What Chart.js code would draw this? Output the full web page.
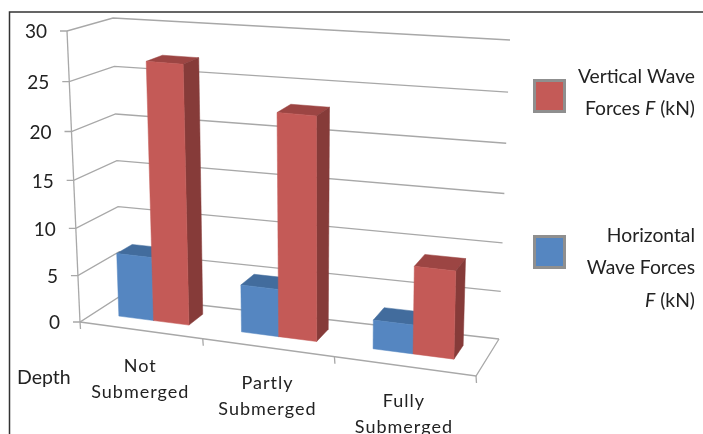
<html>
<head>
  <meta charset="UTF-8">
  <script src="https://cdnjs.cloudflare.com/ajax/libs/Chart.js/4.4.1/chart.umd.js"></script>
  <style> body {padding: 0; margin: 0; background: #fff;} canvas {display: block;} </style>
</head>

<body>
<canvas id="myChart" width="703" height="434"></canvas>

<script>

var categories = [['Not', 'Submerged'], ['Partly', 'Submerged'], ['Fully', 'Submerged']];
var horizontalForces = [6.8, 5, 3];
var verticalForces = [27, 23, 9];
var yMax = 30;
var yStep = 5;
var axisTitle = 'Depth';

// legend text, each line is a list of [text, italic] runs
var verticalLegend = [[['Vertical Wave', false]], [['Forces ', false], ['F', true], [' (kN)', false]]];
var horizontalLegend = [[['Horizontal', false]], [['Wave Forces', false]], [['F', true], [' (kN)', false]]];

var FONT = 'Lato';
var GRID = '#a8a8a8';

// corners of the 3d box as they land in the picture
var FRONT_BL = [80, 322], FRONT_TL = [67, 31], FRONT_BR = [476, 376], FRONT_TR = [482, 65];
var BACK_BL = [120.5, 296], BACK_TL = [113, 18], BACK_BR = [499, 339], BACK_TR = [510, 40];

var BAR_V_FRONT = 0.35, BAR_V_BACK = 0.73;

function warp(t, k) { return t / (k + (1 - k) * t); }
function lerp(a, b, t) { return [a[0] + (b[0] - a[0]) * t, a[1] + (b[1] - a[1]) * t]; }

// u along the categories, v into the depth, w up the value axis, all 0..1
function project(u, v, w) {
  var uu = warp(u, 1.113), ww = warp(w, 1.055);
  var front = lerp(lerp(FRONT_BL, FRONT_BR, uu), lerp(FRONT_TL, FRONT_TR, uu), ww);
  var back = lerp(lerp(BACK_BL, BACK_BR, uu), lerp(BACK_TL, BACK_TR, uu), ww);
  return lerp(front, back, v);
}

function poly(ctx, pts, fill) {
  ctx.beginPath();
  ctx.moveTo(pts[0][0], pts[0][1]);
  for (var i = 1; i < pts.length; i++) ctx.lineTo(pts[i][0], pts[i][1]);
  ctx.closePath();
  ctx.fillStyle = fill;
  ctx.fill();
  ctx.lineWidth = 0.5;
  ctx.strokeStyle = fill;
  ctx.stroke();
}

function line(ctx, pts) {
  ctx.beginPath();
  ctx.moveTo(pts[0][0], pts[0][1]);
  for (var i = 1; i < pts.length; i++) ctx.lineTo(pts[i][0], pts[i][1]);
  ctx.lineWidth = 1.3;
  ctx.strokeStyle = GRID;
  ctx.stroke();
}

function drawWalls(chart, ctx) {
  var y = chart.scales.y;
  // gridlines with the little tick on the front edge
  y.ticks.forEach(function (t) {
    var w = t.value / yMax;
    var a = project(0, 0, w), b = project(0, 1, w), c = project(1, 1, w);
    line(ctx, [[a[0] - 7, a[1]], a, b, c]);
    ctx.font = '19px ' + FONT;
    ctx.fillStyle = '#222';
    ctx.textAlign = 'right';
    ctx.textBaseline = 'middle';
    ctx.fillText(String(t.value), a[0] - 20, a[1] + 1);
  });
  line(ctx, [project(0, 0, 1), project(0, 0, 0)]);
  line(ctx, [project(0, 0, 0), project(1, 0, 0), project(1, 1, 0)]);
  // category ticks under the floor edge
  var n = categories.length;
  for (var i = 0; i <= n; i++) {
    var p = project(i / n, 0, 0);
    line(ctx, [p, [p[0] + 0.5, p[1] + 7]]);
  }
}

function drawBars(chart, ctx) {
  var area = chart.chartArea, y = chart.scales.y;
  chart.data.datasets.forEach(function (ds, di) {
    chart.getDatasetMeta(di).data.forEach(function (bar) {
      var u0 = (bar.x - bar.width / 2 - area.left) / area.width;
      var u1 = (bar.x + bar.width / 2 - area.left) / area.width;
      var h = y.bottom - y.top;
      var w0 = (y.bottom - bar.base) / h, w1 = (y.bottom - bar.y) / h;
      var v0 = BAR_V_FRONT, v1 = BAR_V_BACK;
      poly(ctx, [project(u0, v0, w1), project(u1, v0, w1), project(u1, v1, w1), project(u0, v1, w1)], ds.topColor);
      poly(ctx, [project(u1, v0, w0), project(u1, v1, w0), project(u1, v1, w1), project(u1, v0, w1)], ds.sideColor);
      poly(ctx, [project(u0, v0, w0), project(u1, v0, w0), project(u1, v0, w1), project(u0, v0, w1)], ds.backgroundColor);
    });
  });
}

function drawCategoryLabels(ctx) {
  ctx.font = '18px ' + FONT;
  ctx.fillStyle = '#222';
  ctx.textAlign = 'center';
  ctx.textBaseline = 'middle';
  ctx.letterSpacing = '1px';
  categories.forEach(function (lines, i) {
    var p = project((i + 0.5) / categories.length, 0, 0);
    lines.forEach(function (s, j) {
      ctx.fillText(s, p[0], p[1] + 35.5 + j * 26);
    });
  });
  ctx.letterSpacing = '0px';
  ctx.font = '19.5px ' + FONT;
  ctx.textAlign = 'left';
  ctx.fillText(axisTitle, 17, 378);
}

function drawLegendEntry(ctx, lines, yBox, fill, yLines) {
  ctx.fillStyle = '#8f8f8f';
  ctx.fillRect(533, yBox, 33, 34);
  ctx.fillStyle = fill;
  ctx.fillRect(536, yBox + 3, 27, 28);
  ctx.textBaseline = 'middle';
  ctx.textAlign = 'right';
  ctx.fillStyle = '#222';
  lines.forEach(function (runs, i) {
    var x = 695;
    for (var r = runs.length - 1; r >= 0; r--) {
      ctx.font = (runs[r][1] ? 'italic ' : '') + '19.3px ' + FONT;
      ctx.fillText(runs[r][0], x, yLines[i]);
      x -= ctx.measureText(runs[r][0]).width;
    }
  });
}

var box3d = {
  id: 'box3d',
  beforeDatasetsDraw: function (chart) {
    var ctx = chart.ctx;
    ctx.save();
    // picture frame, only left and top
    ctx.strokeStyle = '#333';
    ctx.lineWidth = 1.5;
    ctx.beginPath();
    ctx.moveTo(9.5, 434);
    ctx.lineTo(9.5, 12);
    ctx.lineTo(703, 12);
    ctx.stroke();

    drawWalls(chart, ctx);
    drawBars(chart, ctx);
    drawCategoryLabels(ctx);
    drawLegendEntry(ctx, verticalLegend, 79, chart.data.datasets[1].backgroundColor, [77, 109]);
    drawLegendEntry(ctx, horizontalLegend, 235, chart.data.datasets[0].backgroundColor, [236, 268, 301]);
    ctx.restore();
    return false;
  }
};

new Chart(document.getElementById('myChart').getContext('2d'), {
  type: 'bar',
  data: {
    labels: categories,
    datasets: [
      { label: 'Horizontal Wave Forces F (kN)', data: horizontalForces, backgroundColor: '#5586c1', sideColor: '#3f6490', topColor: '#426c9d', categoryPercentage: 0.58, barPercentage: 1 },
      { label: 'Vertical Wave Forces F (kN)', data: verticalForces, backgroundColor: '#c45a57', sideColor: '#863b39', topColor: '#9c4543', categoryPercentage: 0.58, barPercentage: 1 }
    ]
  },
  options: {
    responsive: false,
    animation: false,
    events: [],
    plugins: { legend: { display: false }, tooltip: { enabled: false } },
    scales: {
      x: { ticks: { display: false }, grid: { display: false }, border: { display: false } },
      y: { min: 0, max: yMax, ticks: { display: false, stepSize: yStep }, grid: { display: false }, border: { display: false } }
    }
  },
  plugins: [box3d]
});

</script>
</body>
</html>
